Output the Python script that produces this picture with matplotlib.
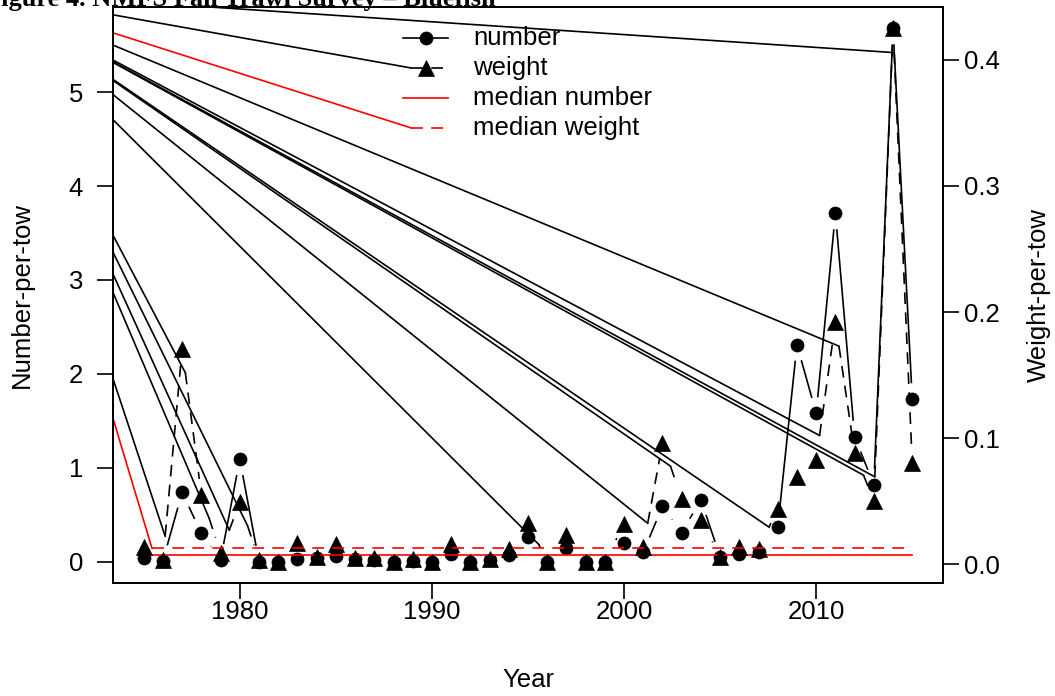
import numpy as np
import matplotlib
matplotlib.use("Agg")
import matplotlib.pyplot as plt

plt.rcParams['font.family'] = ['Liberation Sans', 'DejaVu Sans']
plt.rcParams['font.size'] = 18.5
plt.rcParams['lines.scale_dashes'] = False

# survey indices
years = np.arange(1975, 2016)
number = np.array([0.04, 0.01, 0.74, 0.30, 0.02, 1.09, 0.00, 0.00, 0.03, 0.04,
                   0.06, 0.03, 0.02, 0.00, 0.01, 0.00, 0.08, 0.00, 0.02, 0.07,
                   0.26, 0.00, 0.15, 0.00, 0.00, 0.20, 0.10, 0.59, 0.31, 0.66,
                   0.05, 0.08, 0.10, 0.37, 2.31, 1.58, 3.71, 1.33, 0.82, 5.68,
                   1.73])
weight = np.array([0.014, 0.003, 0.171, 0.055, 0.009, 0.049, 0.003, 0.002, 0.017, 0.006,
                   0.016, 0.005, 0.005, 0.002, 0.004, 0.002, 0.016, 0.002, 0.004, 0.012,
                   0.033, 0.002, 0.023, 0.002, 0.002, 0.032, 0.0135, 0.096, 0.052, 0.035,
                   0.006, 0.014, 0.012, 0.044, 0.069, 0.083, 0.192, 0.0885, 0.050, 0.425,
                   0.080])
median_number = 0.075
median_weight = 0.0125

# weight segments (start year) whose dashed stroke got a stray line from the page corner
stray_years = [1976, 1977, 1978, 1979, 1980, 1995, 2001, 2002, 2007,
               2010, 2011, 2012, 2013, 2014]

legend_labels = ['number', 'weight', 'median number', 'median weight']

W, H = 1055, 696
PX = 0.72            # points per pixel at dpi 100
LW = 1.2
GAP = 16             # px left open round each point (type = "b")
ON, OFF = 11.7, 8.3  # dash pattern in px
CORNER = (-15, H + 8)  # page corner, display px

fig = plt.figure(figsize=(W / 100, H / 100), dpi=100)
ax = fig.add_axes([113 / W, 1 - 583 / H, 830 / W, 576 / H])
ax2 = ax.twinx()


def r_range(v):
    lo, hi = min(v), max(v)
    pad = 0.04 * (hi - lo)
    return lo - pad, hi + pad


ax.set_xlim(r_range(years))
ax.set_ylim(r_range(number))
ax2.set_ylim(r_range(weight))
ax.autoscale(False)
ax2.autoscale(False)

dashed = (ON * PX, (ON * PX, OFF * PX))  # pattern starts with the gap


def draw_b(axis, x, y, marker, ms, ls):
    pts = axis.transData.transform(np.column_stack([x, y]))
    inv = axis.transData.inverted()
    starts = {}
    for yr, p, q in zip(x[:-1], pts[:-1], pts[1:]):
        d = q - p
        L = np.hypot(d[0], d[1])
        u = d / L
        starts[yr] = p + u * (GAP + OFF)
        if L > 2 * GAP:
            seg = inv.transform([p + u * GAP, q - u * GAP])
            axis.plot(seg[:, 0], seg[:, 1], color='k', lw=LW, linestyle=ls,
                      solid_capstyle='butt', dash_capstyle='butt', zorder=2)
    axis.plot(x, y, linestyle='none', marker=marker, ms=ms, color='k',
              mec='k', mew=0.5, zorder=3)
    return starts


def stray(axis, end, color):
    seg = axis.transData.inverted().transform([CORNER, end])
    axis.plot(seg[:, 0], seg[:, 1], color=color, lw=LW, zorder=2)


draw_b(ax, years, number, 'o', 9.4, '-')
w_starts = draw_b(ax2, years, weight, '^', 11, dashed)
for yr in stray_years:
    stray(ax2, w_starts[yr], 'k')

# medians
ax.plot([years[0], years[-1]], [median_number] * 2, color='red', lw=LW, zorder=4)
ax2.plot([years[0], years[-1]], [median_weight] * 2, color='red', lw=LW,
         linestyle=dashed, zorder=4)
p0 = ax2.transData.transform((years[0], median_weight))
stray(ax2, p0 + (OFF, 0), 'red')

# legend, drawn by hand like R's bty="n" legend
lx0, lx1, tx = (403 - 113) / 830, (448 - 113) / 830, (473 - 113) / 830
rows = [(583 - 38) / 576, (583 - 68) / 576, (583 - 98) / 576, (583 - 128) / 576]
styles = [('k', '-', 'o', 9.4), ('k', dashed, '^', 11),
          ('red', '-', None, 0), ('red', dashed, None, 0)]
for lab, yy, (c, ls, m, ms) in zip(legend_labels, rows, styles):
    ax2.plot([lx0, lx1], [yy, yy], color=c, lw=LW, linestyle=ls,
             transform=ax2.transAxes, clip_on=False, zorder=4)
    if m:
        ax2.plot([(lx0 + lx1) / 2], [yy], marker=m, ms=ms, color='k', mew=0.5,
                 transform=ax2.transAxes, clip_on=False, zorder=5)
    ax2.text(tx, yy, lab, transform=ax2.transAxes, ha='left', va='center')
    if ls is dashed:
        start = ax2.transAxes.transform((lx0, yy)) + (OFF, 0)
        stray(ax2, start, c)

# axes
ax.set_xticks([1980, 1990, 2000, 2010])
ax.set_yticks(range(6))
wt = [0.0, 0.1, 0.2, 0.3, 0.4]
ax2.set_yticks(wt)
ax2.set_yticklabels(['%.1f' % v for v in wt])
for a in (ax, ax2):
    a.tick_params(direction='out', length=16 * PX, width=LW, labelsize=18.5)
    for s in a.spines.values():
        s.set_linewidth(1.4)
ax.tick_params(axis='y', pad=10)
ax.tick_params(axis='x', pad=1)
ax2.tick_params(axis='y', pad=3.5)

fig.text(528 / W, 1 - 680 / H, 'Year', ha='center', va='center', fontsize=18.5)
fig.text(22 / W, 1 - 295 / H, 'Number-per-tow', rotation=90, ha='center',
         va='center', fontsize=18.5)
fig.text(1039 / W, 1 - 295 / H, 'Weight-per-tow', rotation=90, ha='center',
         va='center', fontsize=18.5)
# page title, cut off by the top edge as in the source scan
fig.text(-15 / W, 1 - 6 / H, 'Figure 4. NMFS Fall Trawl Survey \u2013 Bluefish',
         family=['Liberation Serif', 'DejaVu Serif'], weight='bold', fontsize=19,
         ha='left', va='baseline')

fig.savefig('out.png', dpi=100)
